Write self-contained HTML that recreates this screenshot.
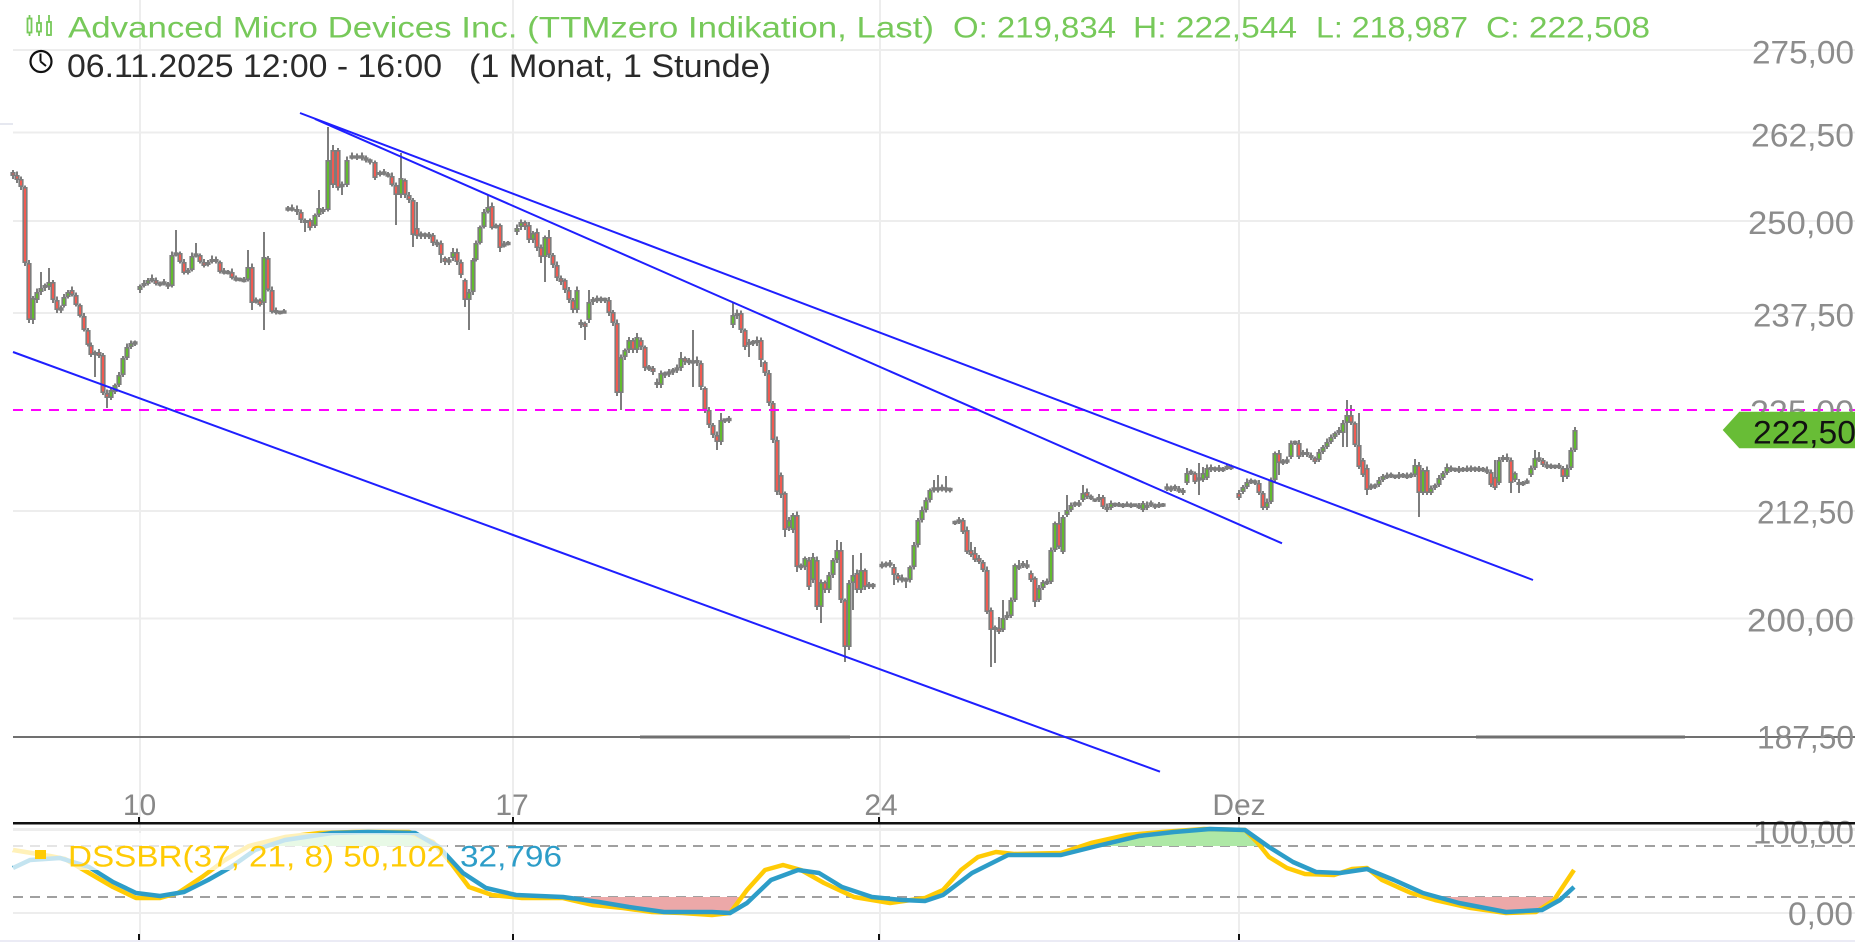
<!DOCTYPE html>
<html><head><meta charset="utf-8">
<style>
html,body{margin:0;padding:0;background:#fff;}
body{width:1855px;height:942px;overflow:hidden;}
svg{display:block;font-family:"Liberation Sans",Arial,sans-serif;}
</style></head>
<body>
<svg width="1855" height="942" viewBox="0 0 1855 942" xmlns="http://www.w3.org/2000/svg">
<rect width="1855" height="942" fill="#fff"/>
<!-- vertical grid -->
<g stroke="#ededed" stroke-width="2">
<line x1="140" y1="0" x2="140" y2="940"/>
<line x1="513" y1="0" x2="513" y2="940"/>
<line x1="880" y1="0" x2="880" y2="940"/>
<line x1="1239" y1="0" x2="1239" y2="940"/>
</g>
<!-- horizontal grid -->
<g stroke="#ededed" stroke-width="2">
<line x1="13" y1="50" x2="1855" y2="50"/>
<line x1="13" y1="132.5" x2="1855" y2="132.5"/>
<line x1="13" y1="221" x2="1855" y2="221"/>
<line x1="13" y1="313" x2="1855" y2="313"/>
<line x1="13" y1="511" x2="1855" y2="511"/>
<line x1="13" y1="618.5" x2="1855" y2="618.5"/>
<line x1="13" y1="829.5" x2="1855" y2="829.5" stroke-width="3"/>
<line x1="13" y1="913" x2="1855" y2="913"/>
<line x1="0" y1="124" x2="13" y2="124" stroke="#e6e8f0"/>
</g>
<!-- dark horizontal line -->
<line x1="13" y1="737" x2="1855" y2="737" stroke="#707070" stroke-width="2"/>
<line x1="640" y1="737" x2="850" y2="737" stroke="#707070" stroke-width="3"/>
<line x1="1476" y1="737" x2="1685" y2="737" stroke="#707070" stroke-width="3"/>

<!-- candles -->
<g id="cd"></g>

<!-- magenta dashed line -->
<line x1="13" y1="410" x2="1855" y2="410" stroke="#ff00ff" stroke-width="2" stroke-dasharray="10 8"/>

<!-- trend lines -->
<g stroke="#1f1fff" stroke-width="2" fill="none">
<line x1="300" y1="113" x2="1533" y2="580"/>
<line x1="315" y1="119" x2="1282" y2="543.3"/>
<line x1="13" y1="352" x2="1160" y2="771.7"/>
</g>

<!-- title -->
<g fill="#fff" stroke="#77c95a" stroke-width="1.8">
<line x1="29.5" y1="15" x2="29.5" y2="36"/><rect x="27.5" y="18.5" width="4" height="14"/>
<line x1="39" y1="15" x2="39" y2="36"/><rect x="37" y="23" width="4" height="8.5"/>
<line x1="49" y1="15" x2="49" y2="36"/><rect x="47" y="22" width="4" height="13"/>
</g>
<g font-size="30" fill="#77c95a">
<text x="68" y="37.5" textLength="866" lengthAdjust="spacingAndGlyphs">Advanced Micro Devices Inc. (TTMzero Indikation, Last)</text>
<text x="953" y="37.5" textLength="163" lengthAdjust="spacingAndGlyphs">O: 219,834</text>
<text x="1133" y="37.5" textLength="164" lengthAdjust="spacingAndGlyphs">H: 222,544</text>
<text x="1316" y="37.5" textLength="152" lengthAdjust="spacingAndGlyphs">L: 218,987</text>
<text x="1486" y="37.5" textLength="164" lengthAdjust="spacingAndGlyphs">C: 222,508</text>
</g>
<circle cx="41" cy="61.5" r="10.5" fill="none" stroke="#111" stroke-width="2.2"/>
<line x1="40.5" y1="61.5" x2="40.5" y2="53.5" stroke="#111" stroke-width="2"/>
<line x1="40.5" y1="61.5" x2="46" y2="66" stroke="#111" stroke-width="2"/>
<g font-size="32" fill="#2a2a2a">
<text x="67" y="77" textLength="375" lengthAdjust="spacingAndGlyphs">06.11.2025 12:00 - 16:00</text>
<text x="469" y="77" textLength="302" lengthAdjust="spacingAndGlyphs">(1 Monat, 1 Stunde)</text>
</g>

<!-- right axis labels -->
<g font-size="32" fill="#8c8c8c">
<text x="1752" y="63.5" textLength="102" lengthAdjust="spacingAndGlyphs">275,00</text>
<text x="1751" y="146.5" textLength="103" lengthAdjust="spacingAndGlyphs">262,50</text>
<text x="1748" y="234" textLength="106" lengthAdjust="spacingAndGlyphs">250,00</text>
<text x="1753" y="326.5" textLength="101" lengthAdjust="spacingAndGlyphs">237,50</text>
<text x="1750" y="423" textLength="104" lengthAdjust="spacingAndGlyphs">225,00</text>
<text x="1757" y="523.5" textLength="97" lengthAdjust="spacingAndGlyphs">212,50</text>
<text x="1747" y="631.5" textLength="107" lengthAdjust="spacingAndGlyphs">200,00</text>
<text x="1757" y="748.5" textLength="97" lengthAdjust="spacingAndGlyphs">187,50</text>
<text x="1753" y="843.5" textLength="101" lengthAdjust="spacingAndGlyphs">100,00</text>
<text x="1788" y="925" textLength="65" lengthAdjust="spacingAndGlyphs">0,00</text>
</g>
<!-- price tag -->
<polygon points="1722.7,430 1739.3,411.7 1855,411.7 1855,448.3 1739.3,448.3" fill="#68bd36"/>
<text x="1753" y="443.5" font-size="32" fill="#111" textLength="103" lengthAdjust="spacingAndGlyphs">222,50</text>

<!-- x axis labels -->
<g font-size="30" fill="#888" text-anchor="middle">
<text x="139.5" y="815">10</text>
<text x="512" y="815">17</text>
<text x="881" y="815">24</text>
<text x="1239" y="815">Dez</text>
</g>
<!-- separator -->
<rect x="13" y="822" width="1842" height="2.5" fill="#111"/>
<g stroke="#111" stroke-width="2">
<line x1="139" y1="817" x2="139" y2="823"/>
<line x1="513" y1="817" x2="513" y2="823"/>
<line x1="879" y1="817" x2="879" y2="823"/>
<line x1="1239" y1="817" x2="1239" y2="823"/>
<line x1="139" y1="934" x2="139" y2="941"/>
<line x1="513" y1="934" x2="513" y2="941"/>
<line x1="879" y1="934" x2="879" y2="941"/>
<line x1="1239" y1="934" x2="1239" y2="941"/>
</g>
<rect x="0" y="940" width="1855" height="2" fill="#ebebf5"/>

<!-- indicator dashed -->
<g stroke="#a0a0a0" stroke-width="2" stroke-dasharray="10 7">
<line x1="13" y1="846" x2="1855" y2="846"/>
<line x1="13" y1="897" x2="1855" y2="897"/>
</g>
<!-- fills -->
<polygon points="270,846 285,838 320,834 356,833 409,833 433,842 438,846" fill="#aee8a6"/>
<polygon points="1097,846 1127,836 1162,833 1204,830 1245,831 1257,842 1262,846" fill="#aee8a6"/>
<polygon points="581,897 593,904 623,907 652,911 682,912 712,913 730,912 741,897" fill="#eca8a8"/>
<polygon points="1423,897 1435,900 1471,907 1506,912 1536,911 1554,900 1560,897" fill="#eca8a8"/>
<!-- indicator lines -->
<polyline fill="none" stroke="#ffcb05" stroke-width="4.5" stroke-linejoin="round" points="13,850 50,856 65,859 89,873 113,887 136,898 160,898 178,893 202,877 225,860 249,846 285,837 320,833 356,832 409,832 433,842 451,863 469,887 492,895 522,898 563,898 593,905 623,908 652,912 682,913 712,915 730,913 747,890 765,870 783,865 801,870 824,883 854,897 890,903 925,898 943,890 961,870 978,857 996,852 1014,854 1061,853 1091,843 1127,835 1162,832 1204,829 1245,830 1257,842 1269,857 1287,868 1305,874 1334,875 1352,869 1367,868 1382,880 1411,893 1435,900 1471,908 1506,913 1536,912 1554,900 1574,870"/>
<polyline fill="none" stroke="#2d9dc8" stroke-width="4.5" stroke-linejoin="round" points="13,868 30,860 60,858 89,867 113,882 136,893 160,896 184,892 208,880 231,867 255,850 285,840 332,833 368,832 415,833 439,847 463,873 486,888 516,895 563,897 599,902 629,907 664,912 712,912 730,913 747,903 771,880 798,870 819,873 842,887 872,897 902,900 925,901 943,895 972,873 1008,855 1061,855 1097,846 1139,836 1174,832 1210,829 1245,830 1269,847 1293,862 1316,872 1340,873 1367,869 1394,880 1423,893 1459,903 1506,912 1542,910 1560,900 1574,887"/>
<!-- legend -->
<rect x="13" y="833" width="434" height="37" fill="#fff" fill-opacity="0.72"/>
<rect x="35" y="850" width="11" height="9" fill="#ffcb05"/>
<text x="68" y="866.5" font-size="30" fill="#ffcb05" textLength="377" lengthAdjust="spacingAndGlyphs">DSSBR(37, 21, 8) 50,102</text>
<text x="460" y="866.5" font-size="30" fill="#2d9dc8" textLength="102" lengthAdjust="spacingAndGlyphs">32,796</text>
</svg>
<script>
var D=[
[13,172,176],[17,175,180],[21,179,187],[25,187,263],[29,263,320],[33,320,298,0,324],[37,300,292],[41,292,288,272],[45,288,285],[49,287,282,268],[53,282,300],[57,300,310],[61,310,308],[64,306,297],[68,297,292],[72,290,295],[76,295,305],[80,305,316],[84,316,330],[88,330,345],[91,345,355],[95,355,352,0,377],[99,352,356],[103,355,393],[107,393,398,0,408],[111,398,390],[115,392,385],[119,385,375],[123,375,358],[127,358,347],[131,347,343],[135,344,342],
[140,290,286,0,293],[144,286,283],[148,284,280],[152,281,278],[156,280,284],[160,283,285],[164,284,282],[168,284,286,0,289],[172,286,255],[176,255,253,230],[180,253,262],[184,262,273],[188,273,270],[192,270,256],[196,256,254,243],[200,255,262],[204,262,266],[208,265,262],[212,262,259],[216,259,262],[220,262,272],[224,271,273],[228,273,272],[232,272,278],[236,278,280],[240,280,279],[244,280,281],[248,280,267,250],[252,267,303,0,310],[256,302,300],[260,300,305],[264,303,257,232,330],[268,258,290],[272,290,312],[276,310,313],[280,312,313],[284,312,312],
[288,210,208],[292,208,210],[297,209,212],[301,212,220],[305,220,223,0,232],[310,220,228],[315,226,215],[319,215,208,190],[323,209,212],[328,210,160,127],[333,150,185,145],[338,150,188],[342,185,186,0,195],[347,185,160],[352,158,156],[357,157,157],[362,156,158],[366,158,160],[370,160,162],[375,162,178],[380,175,172],[384,172,174],[388,174,176],[392,176,185],[396,185,195,0,225],[401,195,178,153],[405,180,195],[409,195,200,0,203],[413,200,235,0,247],
[417,228,236,202],[421,236,234],[425,234,236],[429,236,235],[433,235,243],[437,243,244],[441,243,255,0,263],[445,258,262],[449,262,260],[453,258,252,248],[457,252,262],[461,262,275],[465,280,300,0,307],[469,300,292,0,330],[473,292,260],[476,260,243],[480,243,227],[484,227,212],[488,212,207,195],[492,206,228],[496,226,227],[500,225,248,0,252],[504,246,244],[508,244,243],
[517,232,228],[521,227,222],[525,222,227],[529,225,240],[533,240,233],[537,232,248],[541,247,257,0,263],[545,257,237,0,282],[549,237,255,230],[553,255,265],[557,265,278],[561,278,282],[565,280,290],[569,290,300],[573,300,310],[577,310,290],[581,322,325],[585,323,327,0,340],[589,320,302,290],[593,302,299],[597,299,300],[601,300,299],[605,299,300],[609,300,313],[613,312,323],[617,323,393],[621,393,357,0,410],[625,357,350],[629,350,340],[633,340,350],[637,350,337,333],[641,340,347],[645,347,368],[649,368,368],[653,368,372],[657,382,385],[661,385,373],[665,373,375],[669,374,372],[673,372,370],[677,370,368],[681,368,358,352],[685,358,362],[689,362,361],[693,362,362,330,387],[697,360,363],[701,363,387],[705,388,410],[709,410,425],[713,425,435],[717,435,442,0,450],[721,442,420,413],[725,420,420],[729,420,419],
[733,325,315,303],[737,316,313],[741,313,330],[745,330,347],[749,345,342,0,357],[753,342,343],[757,343,340],[761,340,360,0,367],[765,362,373],[769,373,403],[773,403,440],[777,440,492],[781,475,495],[785,493,530,0,537],[789,528,520],[793,530,515],[797,515,567,0,572],[801,567,566],[805,567,558],[809,560,587],[813,580,557,553],[817,560,607],[821,607,582,0,623],[825,582,590],[829,590,575],[833,575,560],[837,560,550,540],[841,550,600,542],[845,600,647,0,662],[849,647,583],[853,583,575,555,610],[857,573,590],[861,590,570,553],[865,570,587],[869,585,586],[873,586,585],
[882,566,565],[886,565,564],[890,565,563,560],[894,567,575,0,585],[898,575,580],[902,580,578],[906,580,580,0,588],[910,580,567],[914,567,545],[918,545,520],[922,520,510],[926,510,500],[930,500,490],[934,490,488,480],[938,488,490,475],[942,489,488],[946,488,490,476],[950,490,489],
[955,522,523],[959,522,520],[963,520,532],[967,530,552],[971,550,555,542],[975,553,560,547],[979,558,562],[983,562,570],[987,570,612],[991,610,630,0,667],[995,630,627,0,663],[999,628,632,617],[1003,630,618,600],[1007,618,615],[1011,616,600],[1015,600,565],[1019,566,568,560],[1023,566,563],[1027,565,567,560],[1031,573,580],[1035,578,602,0,607],[1039,600,588],[1043,588,582],[1047,583,582],[1051,582,550],[1055,550,523],[1059,523,547,512],[1063,552,517],[1067,515,510,495],[1071,510,505],[1075,505,503],[1079,505,503],[1083,500,493,485],[1087,492,497],[1091,497,498],[1095,500,500],[1099,500,497],[1103,497,507],[1107,507,510],[1111,508,503],[1115,504,505],[1119,505,505],[1123,505,506],[1127,505,505],[1131,505,506],[1135,505,505],[1139,506,507],[1143,510,503],[1147,508,505],[1151,505,503],[1155,505,507],[1159,506,505],[1163,505,505],
[1167,489,487],[1171,488,490],[1175,486,489],[1179,489,491],[1183,490,493],[1187,483,473,468],[1191,473,472],[1195,473,482],[1199,480,478,463,495],[1203,480,473,467],[1207,478,468],[1211,470,467],[1215,468,470],[1219,470,468],[1223,469,470],[1227,468,467],[1231,467,468],
[1239,493,498],[1243,492,487],[1247,487,482],[1251,482,481],[1255,481,483],[1259,483,493],[1263,493,508],[1267,508,502],[1271,502,480],[1275,480,453],[1279,453,463,0,475],[1283,461,463],[1287,462,460],[1291,457,443],[1295,443,442],[1299,443,457],[1303,455,452],[1307,452,455],[1311,455,458],[1315,458,462],[1319,460,452],[1323,452,447],[1327,447,442],[1331,442,437],[1335,437,433],[1339,433,430],[1343,433,423,420,447],[1347,423,415,400,447],[1351,415,423,405],[1355,423,445],[1359,445,467,413],[1363,460,475],[1367,468,490,0,495],[1371,488,486],[1375,487,485],[1379,485,480],[1383,480,476],[1387,476,477],[1391,476,475],[1395,476,477],[1399,477,475],[1403,475,476],[1407,476,477],[1411,476,475],[1415,475,465,459],[1419,465,493,0,517],[1423,493,470],[1427,470,493],[1431,493,488],[1435,488,485],[1439,485,478],[1443,478,473],[1447,473,467],[1451,468,470],[1455,470,469],[1459,469,471],[1463,470,469],[1467,469,470],[1471,470,468],[1475,468,470],[1479,470,469],[1483,469,470],[1487,470,472],[1491,472,485],[1495,477,488,460],[1499,483,460],[1503,460,457],[1507,457,460],[1511,460,483,0,493],[1515,480,473],[1519,482,485,0,493],[1523,484,483],[1527,482,482],
[1531,475,468],[1535,468,458,450],[1539,458,460,452],[1543,460,465],[1547,465,467],[1551,466,467],[1555,467,466],[1559,466,467],[1563,468,477,0,482],[1567,477,468],[1571,468,450],[1575,450,430,427]
];
(function(){
var g=document.getElementById('cd'),s='';
for(var i=0;i<D.length;i++){
 var d=D[i],x=d[0],o=d[1],c=d[2];
 var t=Math.min(o,c),b=Math.max(o,c);
 var h=d[3]||(t-1.5-(x*7%5)*0.5), l=d[4]||(b+1.5+(x*3%4)*0.5);
 s+='<line x1="'+x+'" y1="'+h+'" x2="'+x+'" y2="'+l+'" stroke="#7d7d7d" stroke-width="2"/>';
 if(b-t<3){
  s+='<rect x="'+(x-2.6)+'" y="'+((t+b)/2-1.7)+'" width="5.2" height="3.4" fill="#7d7d7d"/>';
 } else {
  s+='<rect x="'+(x-1.8)+'" y="'+(t+0.8)+'" width="3.6" height="'+(b-t-1.6)+'" fill="'+(c<o?'#62bb2e':'#ef5b52')+'" stroke="#7d7d7d" stroke-width="1.6"/>';
 }
}
g.innerHTML=s;
})();
</script>
</body></html>
